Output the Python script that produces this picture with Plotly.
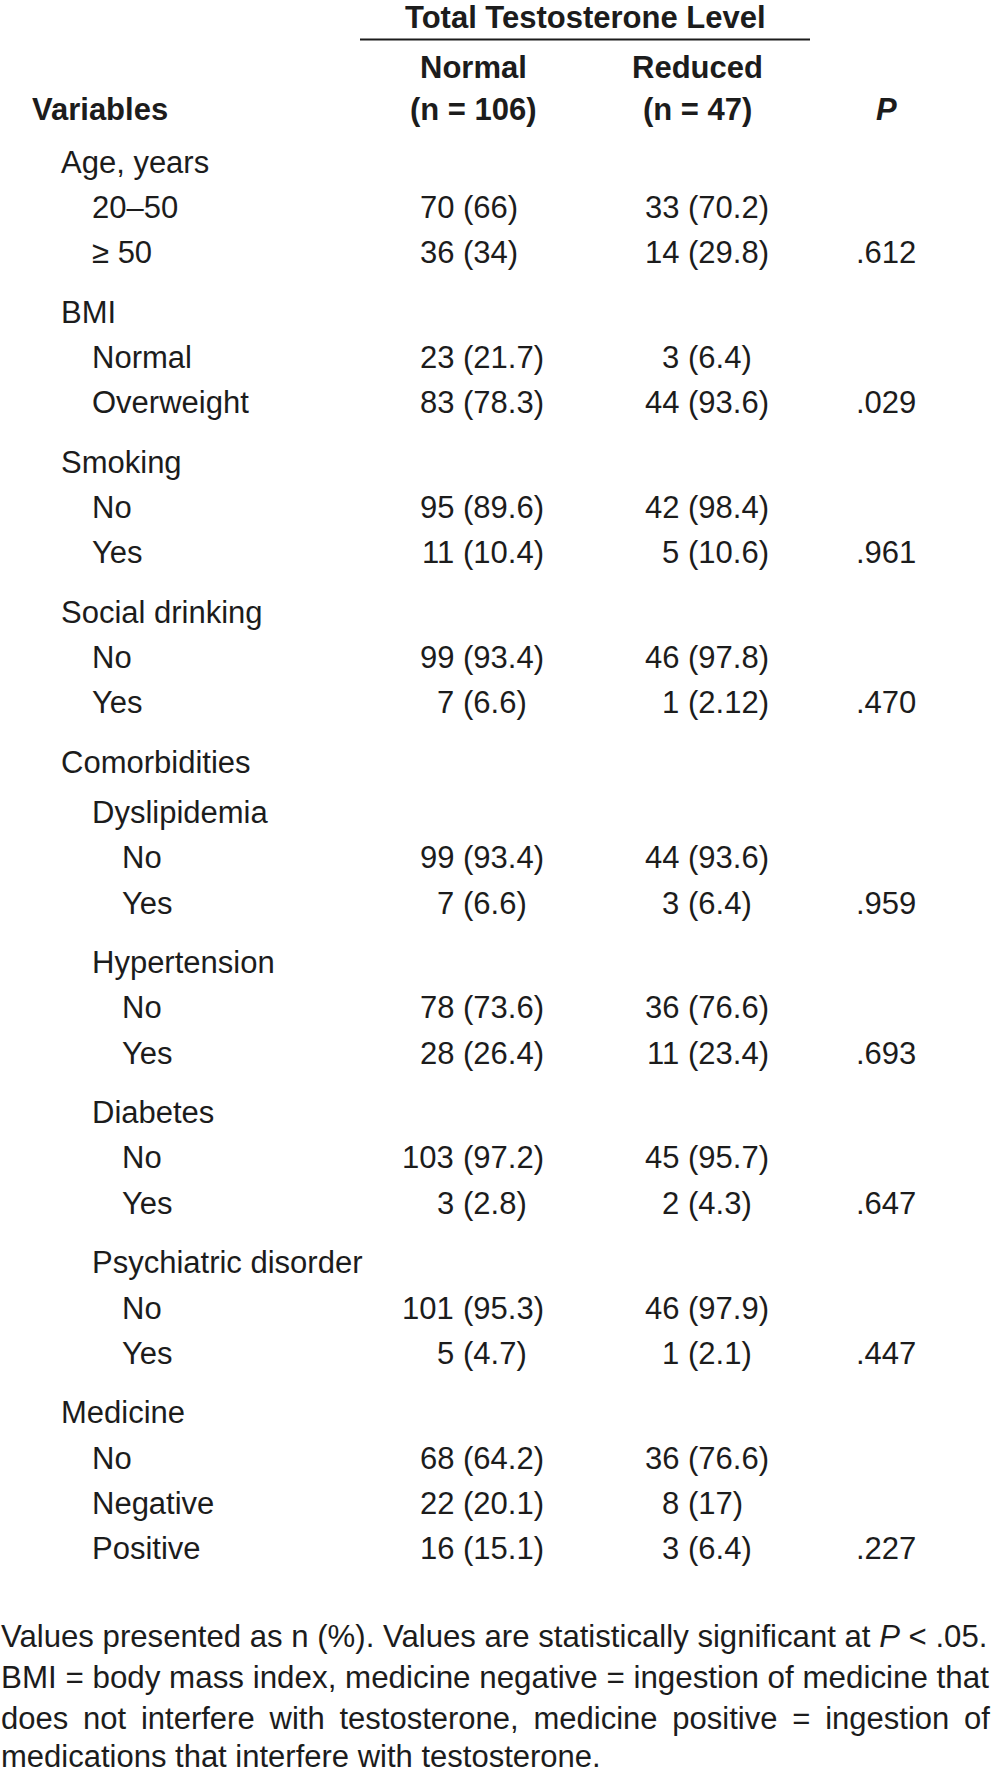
import plotly.graph_objects as go

# ---------------- data ----------------
labels = ["Age, years", "20–50", "≥ 50",
          "BMI", "Normal", "Overweight",
          "Smoking", "No", "Yes",
          "Social drinking", "No", "Yes",
          "Comorbidities",
          "Dyslipidemia", "No", "Yes",
          "Hypertension", "No", "Yes",
          "Diabetes", "No", "Yes",
          "Psychiatric disorder", "No", "Yes",
          "Medicine", "No", "Negative", "Positive"]
levels = [0, 1, 1,
          0, 1, 1,
          0, 1, 1,
          0, 1, 1,
          0,
          1, 2, 2,
          1, 2, 2,
          1, 2, 2,
          1, 2, 2,
          0, 1, 1, 1]
normal_n = [None, 70, 36, None, 23, 83, None, 95, 11, None, 99, 7, None,
            None, 99, 7, None, 78, 28, None, 103, 3, None, 101, 5,
            None, 68, 22, 16]
normal_pct = ["", "66", "34", "", "21.7", "78.3", "", "89.6", "10.4", "", "93.4", "6.6", "",
              "", "93.4", "6.6", "", "73.6", "26.4", "", "97.2", "2.8", "", "95.3", "4.7",
              "", "64.2", "20.1", "15.1"]
reduced_n = [None, 33, 14, None, 3, 44, None, 42, 5, None, 46, 1, None,
             None, 44, 3, None, 36, 11, None, 45, 2, None, 46, 1,
             None, 36, 8, 3]
reduced_pct = ["", "70.2", "29.8", "", "6.4", "93.6", "", "98.4", "10.6", "", "97.8", "2.12", "",
               "", "93.6", "6.4", "", "76.6", "23.4", "", "95.7", "4.3", "", "97.9", "2.1",
               "", "76.6", "17", "6.4"]
p_values = ["", "", ".612", "", "", ".029", "", "", ".961", "", "", ".470", "",
            "", "", ".959", "", "", ".693", "", "", ".647", "", "", ".447",
            "", "", "", ".227"]

group_title = "Total Testosterone Level"
col_names = ["Normal", "Reduced"]
col_ns = ["(n = 106)", "(n = 47)"]
var_header = "Variables"
p_header = "P"

footnote_lines = [
    "Values presented as n (%). Values are statistically significant at <i>P</i> < .05.",
    "BMI = body mass index, medicine negative = ingestion of medicine that",
    "does not interfere with testosterone, medicine positive = ingestion of",
    "medications that interfere with testosterone.",
]
justify_line = [False, False, True, False]

# ---------------- layout constants ----------------
W, H = 991, 1774
FONT = "Liberation Sans, Arial, Helvetica, sans-serif"
COLOR = "#1c1c1c"
FS = 31
note_sizes = [31.15, 31.35, 31, 31]
indent_x = [60, 90.5, 120.5]
normal_split = 455    # right edge of count / left edge of "(%)"
reduced_split = 680
paren_gap = 7
p_center = 886
normal_center = 473
reduced_center = 697

fig = go.Figure()
ann = []


def add(text, x, y, anchor="left", size=FS, bold=False):
    ann.append(dict(text=("<b>%s</b>" % text) if bold else text, x=x, y=y,
                    xref="x", yref="y", xanchor=anchor, yanchor="middle",
                    showarrow=False, borderpad=0,
                    font=dict(family=FONT, size=size, color=COLOR)))


# header
add(group_title, (360 + 810) / 2, 17, "center", bold=True)
add(col_names[0], normal_center, 67, "center", bold=True)
add(col_names[1], reduced_center, 67, "center", bold=True)
add(col_ns[0], normal_center, 109, "center", bold=True)
add(col_ns[1], reduced_center, 109, "center", bold=True)
add(var_header, 31, 109, "left", bold=True)
add("<i>%s</i>" % p_header, p_center, 109, "center", bold=True)

fig.add_shape(type="line", x0=360, x1=810, y0=39.5, y1=39.5, xref="x", yref="y",
              line=dict(color=COLOR, width=2))

# body rows
y = 162.0
for i, lab in enumerate(labels):
    if i > 0:
        if p_values[i - 1]:
            y += 59.5
        elif normal_n[i - 1] is None and normal_n[i] is None:
            y += 50
        else:
            y += 45.3
    add(lab, indent_x[levels[i]], y, "left")
    if normal_n[i] is not None:
        add(str(normal_n[i]), normal_split, y, "right")
        add("(%s)" % normal_pct[i], normal_split + paren_gap, y, "left")
    if reduced_n[i] is not None:
        add(str(reduced_n[i]), reduced_split, y, "right")
        add("(%s)" % reduced_pct[i], reduced_split + paren_gap, y, "left")
    if p_values[i]:
        add(p_values[i], p_center, y, "center")

# footnote
note_y = [1636, 1677, 1718, 1756]
for line, yy, just, sz in zip(footnote_lines, note_y, justify_line, note_sizes):
    txt = line.replace(" ", "\u00a0\u2009") if just else line
    add(txt, 0, yy, "left", size=sz)

fig.update_layout(
    width=W, height=H,
    margin=dict(l=0, r=0, t=0, b=0),
    paper_bgcolor="white", plot_bgcolor="white",
    xaxis=dict(range=[0, W], visible=False, fixedrange=True),
    yaxis=dict(range=[H, 0], visible=False, fixedrange=True),
    annotations=ann,
    showlegend=False,
)

fig.write_html("out.html",
               config={"displayModeBar": False},
               post_script="document.body.style.margin='0';document.body.style.overflow='hidden';")
